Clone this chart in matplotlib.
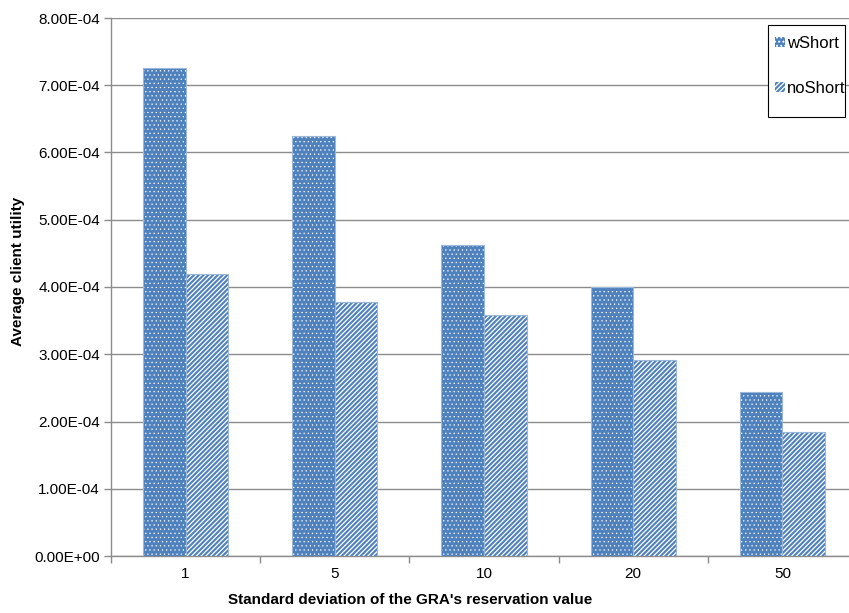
import numpy as np
import matplotlib
matplotlib.use('Agg')
from matplotlib import pyplot as plt
from matplotlib.patches import Rectangle
from matplotlib.ticker import FuncFormatter

# values
categories = ['1', '5', '10', '20', '50']
wShort = [7.26e-4, 6.25e-4, 4.62e-4, 4.00e-4, 2.44e-4]
noShort = [4.20e-4, 3.77e-4, 3.59e-4, 2.92e-4, 1.84e-4]

plt.rcParams['font.family'] = ['Liberation Sans', 'DejaVu Sans']

blue = '#4F81BD'
edge = '#9BB7D9'
grey = '#8C8C8C'

fig = plt.figure(figsize=(8.49, 6.13), dpi=100)
# plot area runs a little past the right edge of the picture, as in the reference
ax = fig.add_axes([111 / 849, 57 / 613, 746 / 849, 538 / 613])

x = np.arange(len(categories))
w = 1 / 3.5


def set_hlw(bars, lw):
    for p in bars:
        if hasattr(p, 'set_hatch_linewidth'):
            p.set_hatch_linewidth(lw)


plt.rcParams['hatch.linewidth'] = 0.4
b1 = ax.bar(x - w / 2, wShort, w, color=blue, edgecolor='white', hatch='....', linewidth=0, zorder=3, label='wShort')
set_hlw(b1, 0.4)
plt.rcParams['hatch.linewidth'] = 0.9
b2 = ax.bar(x + w / 2, noShort, w, color=blue, edgecolor='white', hatch='/' * 7, linewidth=0, zorder=3, label='noShort')
set_hlw(b2, 0.9)
ax.bar(x - w / 2, wShort, w, fill=False, edgecolor=edge, linewidth=0.8, zorder=4)
ax.bar(x + w / 2, noShort, w, fill=False, edgecolor=edge, linewidth=0.8, zorder=4)

ax.set_xlim(-0.5, len(categories) - 0.5)
ax.set_ylim(0, 8e-4)
ax.set_yticks(np.arange(0, 8.01e-4, 1e-4))
ax.yaxis.set_major_formatter(FuncFormatter(lambda v, p: '{:.2E}'.format(v)))
ax.grid(axis='y', color=grey, linewidth=1, zorder=0)

# category labels centred, tick marks on the boundaries
ax.set_xticks(x)
ax.set_xticklabels(categories)
ax.tick_params(axis='x', which='major', length=0, labelsize=11, pad=8)
ax.set_xticks(np.arange(-0.5, len(categories), 1), minor=True)
ax.tick_params(axis='x', which='minor', length=5, color=grey, width=1)
ax.tick_params(axis='y', length=5, color=grey, width=1, labelsize=11, pad=3)

for s in ['top', 'right']:
    ax.spines[s].set_visible(False)
for s in ['left', 'bottom']:
    ax.spines[s].set_color(grey)
    ax.spines[s].set_linewidth(1)

ax.set_xlabel("Standard deviation of the GRA's reservation value", fontsize=11, fontweight='bold')
ax.set_ylabel('Average client utility', fontsize=11, fontweight='bold')
ax.xaxis.set_label_coords((410 - 111) / 746, -(593 - 556) / 538)
ax.yaxis.set_label_coords(-(111 - 25) / 746, (556 - 271) / 538)

# legend box drawn by hand so its padding can match the reference
fig.patches.append(Rectangle((768 / 849, 1 - 117 / 613), 77 / 849, 92 / 613,
                             transform=fig.transFigure, facecolor='white',
                             edgecolor='black', linewidth=0.8, zorder=5))
leg = fig.legend(handles=[b1, b2], loc='upper left', bbox_to_anchor=(775 / 849, 1 - 36 / 613),
                 frameon=False, fontsize=12,
                 handlelength=0.6, handleheight=0.6, handletextpad=0.1, labelspacing=1.8,
                 borderpad=0, borderaxespad=0)
leg.set_zorder(6)

fig.savefig('out.png', dpi=100)
